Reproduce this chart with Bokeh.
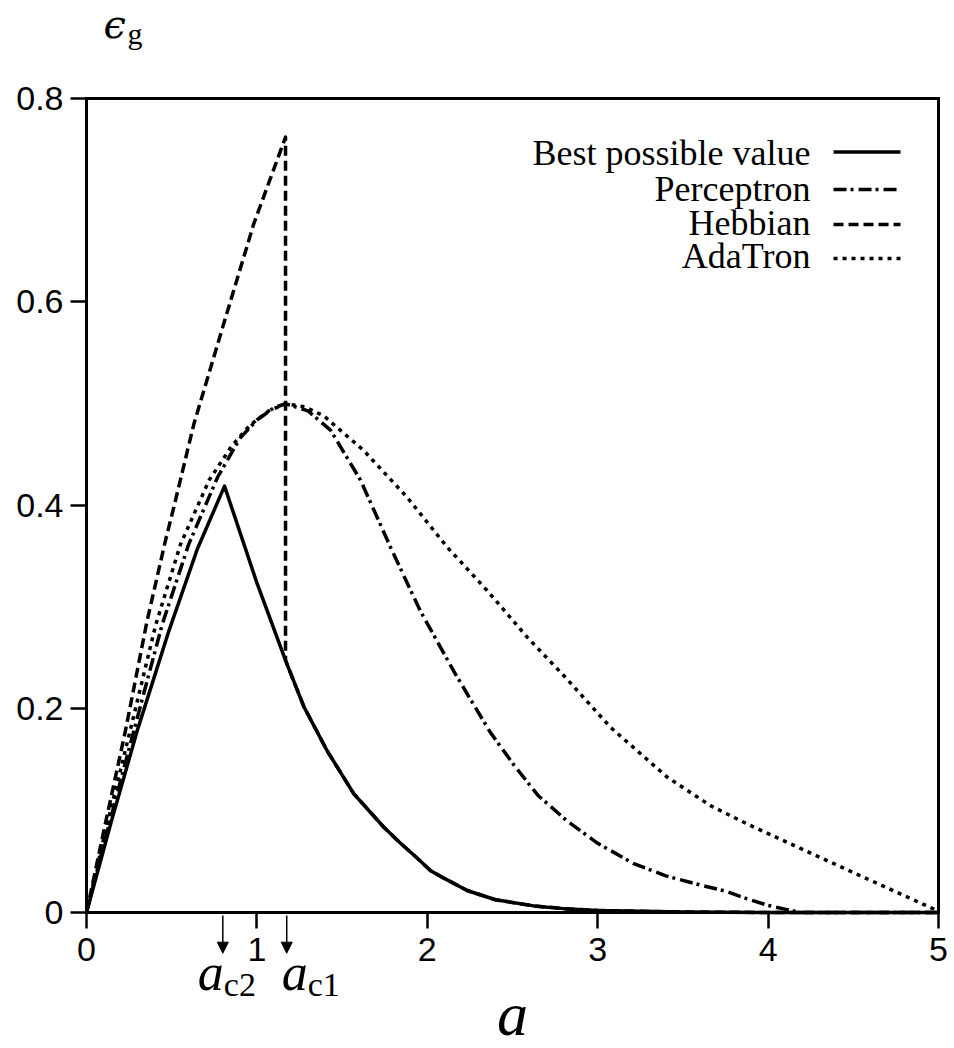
from bokeh.plotting import figure
from bokeh.models import Range1d, Label, Arrow, NormalHead, FixedTicker, LinearAxis
from bokeh.embed import file_html
from bokeh.resources import INLINE

# ---------------- data ----------------
best_x = [0.0, 0.15, 0.30, 0.48, 0.65, 0.81, 1.0, 1.168, 1.275, 1.412, 1.569, 1.745,
          1.843, 1.94, 2.02, 2.1, 2.234, 2.4, 2.625, 2.8, 3.0, 3.5, 4.0, 5.0]
best_y = [0.0, 0.092, 0.180, 0.275, 0.357, 0.419, 0.324, 0.2477, 0.2025, 0.159, 0.1166,
          0.0838, 0.068, 0.0535, 0.041, 0.0335, 0.0216, 0.0125, 0.0065, 0.0038, 0.002,
          0.0005, 0.0, 0.0]

perc_x = [0.0, 0.1, 0.288, 0.444, 0.6, 0.77, 0.9, 1.0, 1.1, 1.168, 1.3, 1.432, 1.608,
          1.784, 1.96, 2.156, 2.234, 2.37, 2.508, 2.65, 2.82, 3.0, 3.212, 3.4, 3.603,
          3.75, 3.877, 4.0, 4.09, 4.19, 5.0]
perc_y = [0.0, 0.066, 0.185, 0.283, 0.362, 0.428, 0.466, 0.484, 0.496, 0.5, 0.493, 0.474,
          0.425, 0.359, 0.296, 0.237, 0.215, 0.177, 0.145, 0.115, 0.090, 0.068, 0.048,
          0.036, 0.027, 0.021, 0.0134, 0.007, 0.0036, 0.0, 0.0]

hebb_x = [0.0, 0.1, 0.229, 0.356, 0.464, 0.512, 0.63, 0.806, 0.982, 1.168, 1.168,
          1.275, 1.412, 1.569, 1.745, 1.843, 1.94, 2.02, 2.1, 2.234, 2.4, 2.625, 2.8,
          3.0, 3.5, 4.0, 5.0]
hebb_y = [0.0, 0.079, 0.179, 0.287, 0.366, 0.398, 0.480, 0.579, 0.677, 0.762, 0.2477,
          0.2025, 0.159, 0.1166, 0.0838, 0.068, 0.0535, 0.041, 0.0335, 0.0216, 0.0125,
          0.0065, 0.0038, 0.002, 0.0005, 0.0, 0.0]

ada_x = [0.0, 0.1, 0.258, 0.405, 0.552, 0.72, 0.85, 0.96, 1.07, 1.168, 1.28, 1.393,
         1.627, 1.882, 2.117, 2.351, 2.586, 2.80, 3.075, 3.408, 3.662, 3.877, 4.131,
         4.56, 4.97, 5.0]
ada_y = [0.0, 0.072, 0.180, 0.282, 0.362, 0.425, 0.458, 0.479, 0.493, 0.5, 0.497, 0.488,
         0.454, 0.408, 0.359, 0.3165, 0.2706, 0.233, 0.182, 0.133, 0.105, 0.087, 0.0675,
         0.0347, 0.0036, 0.0]

x_ticks = [0, 1, 2, 3, 4, 5]
x_tick_labels = ["0", "1", "2", "3", "4", "5"]
y_ticks = [0, 0.2, 0.4, 0.6, 0.8]
y_tick_labels = ["0", "0.2", "0.4", "0.6", "0.8"]
x_lo, x_hi = 0, 5
y_lo, y_hi = 0, 0.8

a_c2 = 0.80
a_c1 = 1.175

series_names = ["Best possible value", "Perceptron", "Hebbian", "AdaTron"]

# ---------------- styles / layout ----------------
SANS = "Liberation Sans"
SERIF = "Liberation Serif"
LW = 3.5
PX_Y = 1017.5  # pixels per y unit (for small vertical nudges of texts)
dashes = {"Best possible value": "solid",
          "Perceptron": "13 4 3 5",
          "Hebbian": "10 5",
          "AdaTron": "4 5"}


def up(px):
    return px / PX_Y


# the frame spans the whole canvas; the axes are pinned to the data box
p = figure(width=954, height=1048,
           x_range=Range1d(-0.5047, 5.0939), y_range=Range1d(-0.13366, 0.8963),
           output_backend="svg", toolbar_location=None,
           min_border=0, min_border_left=0, min_border_right=0,
           min_border_top=0, min_border_bottom=0)
p.grid.visible = False
p.outline_line_color = None
p.background_fill_color = "white"
p.border_fill_color = "white"

xax = p.xaxis[0]
yax = p.yaxis[0]
xax.fixed_location = y_lo
xax.bounds = (x_lo, x_hi)
yax.fixed_location = x_lo
yax.bounds = (y_lo, y_hi)

top_ax = LinearAxis(fixed_location=y_hi, bounds=(x_lo, x_hi), ticker=FixedTicker(ticks=[]),
                    major_label_text_font_size="0px")
right_ax = LinearAxis(fixed_location=x_hi, bounds=(y_lo, y_hi), ticker=FixedTicker(ticks=[]),
                      major_label_text_font_size="0px")
p.add_layout(top_ax, "above")
p.add_layout(right_ax, "right")

for ax in (xax, yax, top_ax, right_ax):
    ax.axis_line_width = 3
    ax.axis_line_color = "black"
    ax.axis_line_cap = "square"
    ax.major_tick_line_width = 2.5
    ax.major_tick_line_color = "black"
    ax.major_tick_out = 16
    ax.major_tick_in = 0
    ax.minor_tick_line_color = None
    ax.major_label_text_font = SANS
    ax.major_label_text_color = "black"
xax.major_label_text_font_size = "34px"
yax.major_label_text_font_size = "34px"

xax.ticker = FixedTicker(ticks=x_ticks)
xax.major_label_overrides = {t: l for t, l in zip(x_ticks, x_tick_labels)}
xax.major_label_standoff = 10
yax.ticker = FixedTicker(ticks=y_ticks)
yax.major_label_overrides = {t: l for t, l in zip(y_ticks, y_tick_labels)}
yax.major_label_standoff = 7

data = {"Best possible value": (best_x, best_y),
        "Perceptron": (perc_x, perc_y),
        "Hebbian": (hebb_x, hebb_y),
        "AdaTron": (ada_x, ada_y)}

for name in ["AdaTron", "Perceptron", "Hebbian", "Best possible value"]:
    xs, ys = data[name]
    p.line(xs, ys, line_color="black", line_width=LW, line_dash=dashes[name],
           line_join="round", line_cap="butt")

# ---------------- manual legend (label left, sample right) ----------------
leg_text_x = 4.249
leg_line_x0 = 4.384
leg_line_x1 = 4.777
leg_text_y = [0.736, 0.7007, 0.6673, 0.6339]
leg_line_y = [0.7473, 0.7106, 0.6762, 0.6428]
for name, ty, ly in zip(series_names, leg_text_y, leg_line_y):
    p.add_layout(Label(x=leg_text_x, y=ty + up(11), text=name, text_font=SERIF,
                       text_font_size="36px", text_align="right",
                       text_baseline="alphabetic", text_color="black"))
    p.line([leg_line_x0, leg_line_x1], [ly, ly], line_color="black", line_width=LW,
           line_dash=dashes[name], line_cap="butt")

# ---------------- axis labels ----------------
p.add_layout(Label(x=0.10, y=0.859 + up(14), text="ϵ", text_font="DejaVu Serif",
                   text_font_style="italic", text_font_size="40px",
                   text_align="left", text_baseline="alphabetic", text_color="black"))
p.add_layout(Label(x=0.24, y=0.852 + up(12), text="g", text_font=SERIF,
                   text_font_size="30px", text_align="left",
                   text_baseline="alphabetic", text_color="black"))
p.add_layout(Label(x=2.5, y=-0.119 + up(20), text="a", text_font=SERIF,
                   text_font_style="italic", text_font_size="62px",
                   text_align="center", text_baseline="alphabetic", text_color="black"))

# ---------------- critical points ----------------
for xc, sub in [(a_c2, "c2"), (a_c1, "c1")]:
    p.add_layout(Arrow(end=NormalHead(size=11, fill_color="black", line_color="black",
                                      line_width=1),
                       x_start=xc, y_start=-0.003, x_end=xc, y_end=-0.040,
                       line_color="black", line_width=1.5))
    if sub == "c2":
        a_dx, a_align, s_dx = 1, "right", 1
    else:
        a_dx, a_align, s_dx = -5, "left", 21
    p.add_layout(Label(x=xc, y=-0.0747 + up(16), text="a", x_offset=a_dx, text_font=SERIF,
                       text_font_style="italic", text_font_size="52px",
                       text_align=a_align, text_baseline="alphabetic", text_color="black"))
    p.add_layout(Label(x=xc, y=-0.0816 + up(11), text=sub, x_offset=s_dx, text_font=SERIF,
                       text_font_size="34px", text_align="left",
                       text_baseline="alphabetic", text_color="black"))

open("out.html", "w").write(file_html(p, INLINE))
